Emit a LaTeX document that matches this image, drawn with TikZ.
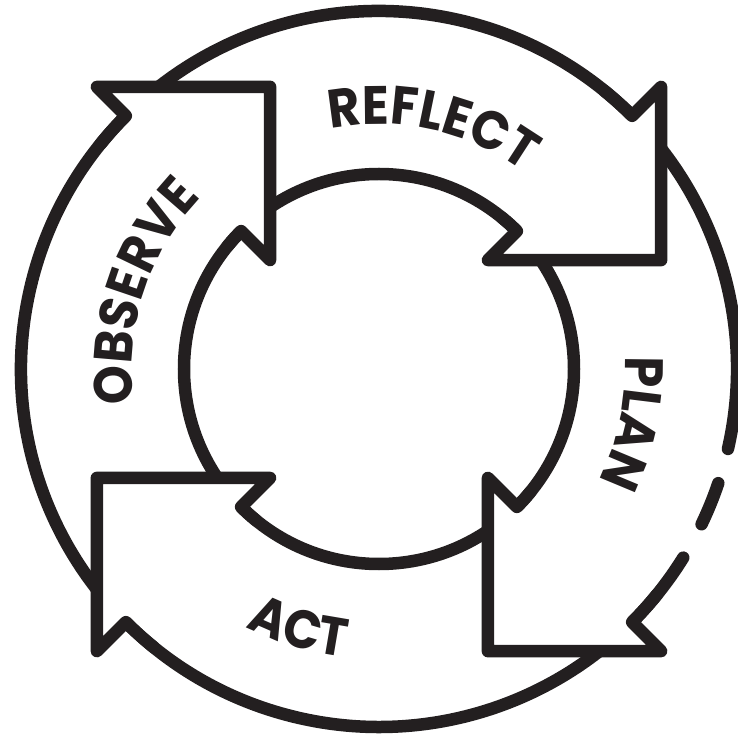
\documentclass[tikz,border=0pt]{standalone}
\usepackage{fontspec}
\newfontfamily\cyclefont{Poppins}[UprightFont=* Bold, FakeStretch=0.92]
\usetikzlibrary{decorations.text}
\definecolor{ink}{HTML}{231F20}

\begin{document}
\begin{tikzpicture}[
    x=1pt, y=1pt,
    line width=12.5pt, line join=round, line cap=round,
    ring/.style={draw=ink},
    head/.style={draw=ink},
    cycletext/.style={decorate, decoration={text along path, text align=center,
        text color=ink, text={|\cyclefont\fontsize{54}{54}\selectfont|#1}}}
]
    \useasboundingbox (-379,-369) rectangle (358,369);

    % Circulos
    \draw[ring] (0,0) circle[radius=195];
    \draw[ring] (-12.9:358) arc[start angle=-12.9, end angle=328.2, radius=358];
    \draw[ring] (-18.6:358) arc[start angle=-18.6, end angle=-25.7, radius=358];

    % Pontas
    \foreach \a in {135,45,-45,-135} {
        \begin{scope}[rotate=\a]
            \fill[white] (399,0) -- (276.5,-122.5) -- (154,0) -- cycle;
            \draw[head] (6:358) arc[start angle=6, end angle=0, radius=358]
                -- (399,0) -- (276.5,-122.5) -- (154,0) -- (195,0)
                arc[start angle=0, end angle=6, radius=195];
        \end{scope}
    }

    % Textos
    \path[cycletext=REFLECT] (117.5:245) arc[start angle=117.5, end angle=37.5, radius=245];
    \path[cycletext=OBSERVE] (202:247) arc[start angle=202, end angle=122, radius=247];
    \path[cycletext=PLAN] (28:246) arc[start angle=28, end angle=-52, radius=246];
    \path[cycletext=ACT] (213:290) arc[start angle=213, end angle=293, radius=290];
\end{tikzpicture}
\end{document}
